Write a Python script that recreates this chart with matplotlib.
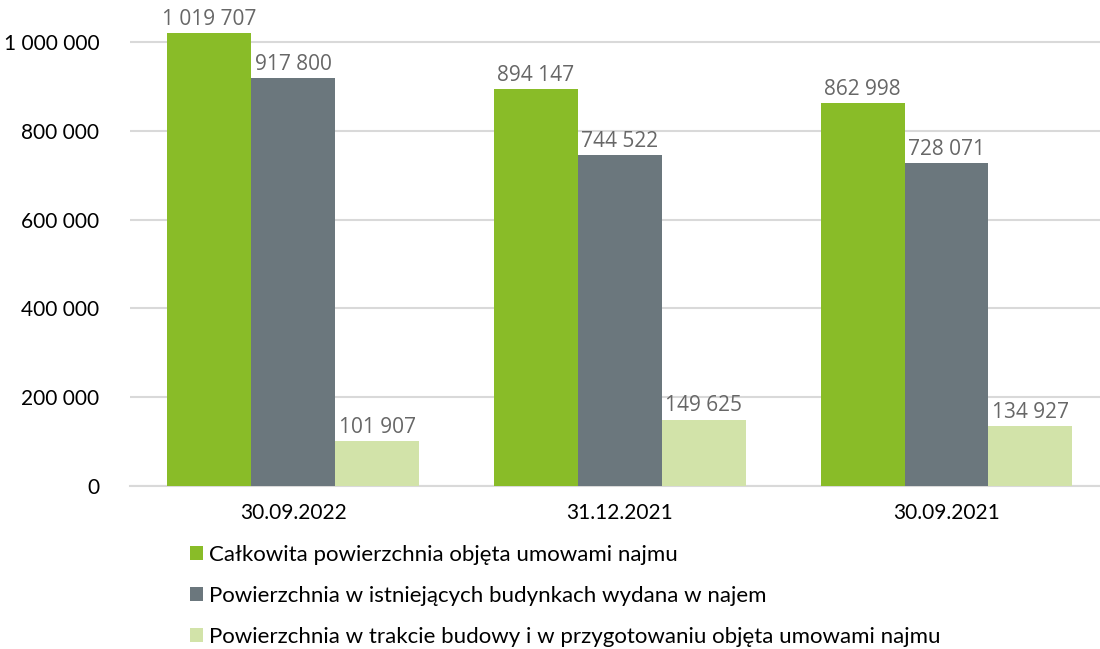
import numpy as np
import matplotlib.pyplot as plt
from matplotlib.ticker import FuncFormatter

categories = ['30.09.2022', '31.12.2021', '30.09.2021']
series_names = ['Całkowita powierzchnia objęta umowami najmu',
                'Powierzchnia w istniejących budynkach wydana w najem',
                'Powierzchnia w trakcie budowy i w przygotowaniu objęta umowami najmu']
total = [1019707, 894147, 862998]
existing = [917800, 744522, 728071]
construction = [101907, 149625, 134927]
colors = ['#89BC28', '#6B777D', '#D2E3A9']
yticks = [0, 200000, 400000, 600000, 800000, 1000000]


def fmt(v, pos=None):
    return '{:,}'.format(int(v)).replace(',', ' ')


fig = plt.figure(figsize=(11, 6.49), dpi=100)
ax = fig.add_axes([130 / 1100, 1 - 486 / 649, 970 / 1100, 466.2 / 649])

x = np.arange(len(categories))
w = 0.257
for i, (vals, col, name) in enumerate(zip([total, existing, construction], colors, series_names)):
    bars = ax.bar(x + (i - 1) * w, vals, w, color=col, label=name, zorder=3)
    for b, v in zip(bars, vals):
        ax.text(b.get_x() + b.get_width() / 2, v + 7000, fmt(v), ha='center', va='bottom',
                fontsize=15, color='#676767', family='Open Sans', zorder=4)

ax.set_xlim(-0.5, 2.47)
ax.set_ylim(0, 1050000)
ax.set_yticks(yticks)
ax.yaxis.set_major_formatter(FuncFormatter(fmt))
ax.set_xticks(x)
ax.set_xticklabels(categories)
ax.tick_params(length=0, labelsize=15, pad=12)
ax.tick_params(axis='y', pad=22)
for lab in ax.get_xticklabels() + ax.get_yticklabels():
    lab.set_family('Lato')
ax.grid(axis='y', color='#D9D9D9', lw=1.5, zorder=0)
for s in ['top', 'right', 'left']:
    ax.spines[s].set_visible(False)
ax.spines['bottom'].set_color('#D9D9D9')
ax.spines['bottom'].set_linewidth(1.5)

fig.legend(loc='upper left', bbox_to_anchor=(181 / 1100, 1 - 536 / 649), frameon=False,
           ncol=1, handlelength=0.6, handleheight=0.6, handletextpad=0.25,
           labelspacing=0.95, prop={'family': 'Lato', 'size': 16}, borderaxespad=0)

fig.savefig('out.png', dpi=100)
